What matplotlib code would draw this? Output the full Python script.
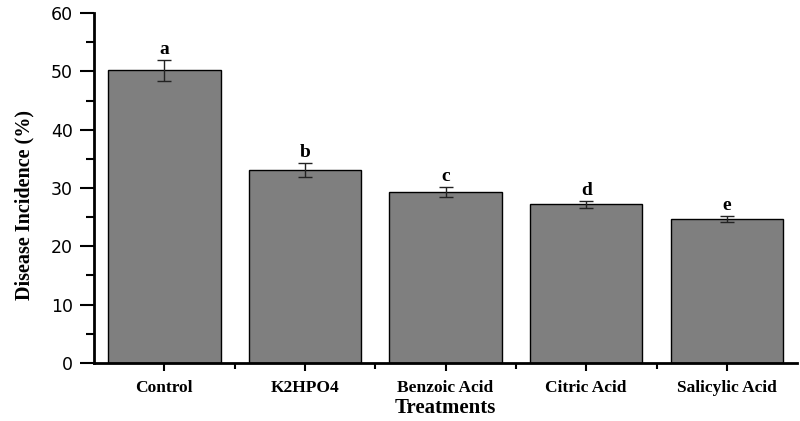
import numpy as np
import matplotlib.pyplot as plt
from matplotlib.ticker import MultipleLocator

# data
treatments = ['Control', 'K2HPO4', 'Benzoic Acid', 'Citric Acid', 'Salicylic Acid']
incidence = [50.2, 33.1, 29.3, 27.2, 24.7]
errors = [1.8, 1.2, 0.9, 0.65, 0.5]
letters = ['a', 'b', 'c', 'd', 'e']

fig = plt.figure(figsize=(8, 4.21), dpi=100)
ax = fig.add_axes([0.1175, 0.138, 0.879, 0.831])

x = np.arange(len(treatments))
ax.bar(x, incidence, width=0.8, color='#7f7f7f', edgecolor='black', linewidth=1.0,
       yerr=errors, capsize=5, error_kw=dict(ecolor='#222222', elinewidth=1, capthick=1))

# significance letters
for xi, v, e, l in zip(x, incidence, errors, letters):
    ax.text(xi, v + e + 0.3, l, ha='center', va='bottom', fontsize=14,
            fontweight='bold', family='Liberation Serif')

ax.set_xlim(-0.5, 4.5)
ax.set_ylim(0, 60)
ax.yaxis.set_major_locator(MultipleLocator(10))
ax.yaxis.set_minor_locator(MultipleLocator(5))
ax.set_xticks(x)
ax.set_xticks(x[:-1] + 0.5, minor=True)
ax.set_xticklabels(treatments, fontsize=12.5, fontweight='bold', family='Liberation Serif')
for t in ax.get_yticklabels():
    t.set_family('DejaVu Sans')
    t.set_fontsize(12.5)

ax.tick_params(axis='y', which='major', length=10, width=1.5, direction='out', pad=5)
ax.tick_params(axis='y', which='minor', length=6, width=1.5, direction='out')
ax.tick_params(axis='x', which='major', length=6, width=1.5, direction='out', pad=6)
ax.tick_params(axis='x', which='minor', length=4, width=1.5, direction='out')

for s in ['top', 'right']:
    ax.spines[s].set_visible(False)
for s in ['left', 'bottom']:
    ax.spines[s].set_linewidth(2)

ax.set_ylabel('Disease Incidence (%)', fontsize=14.5, fontweight='bold',
              family='Liberation Serif')
ax.yaxis.set_label_coords(-0.085, 0.45)
ax.set_xlabel('Treatments', fontsize=15, fontweight='bold',
              family='Liberation Serif', labelpad=2)

fig.savefig('out.png', dpi=100)
